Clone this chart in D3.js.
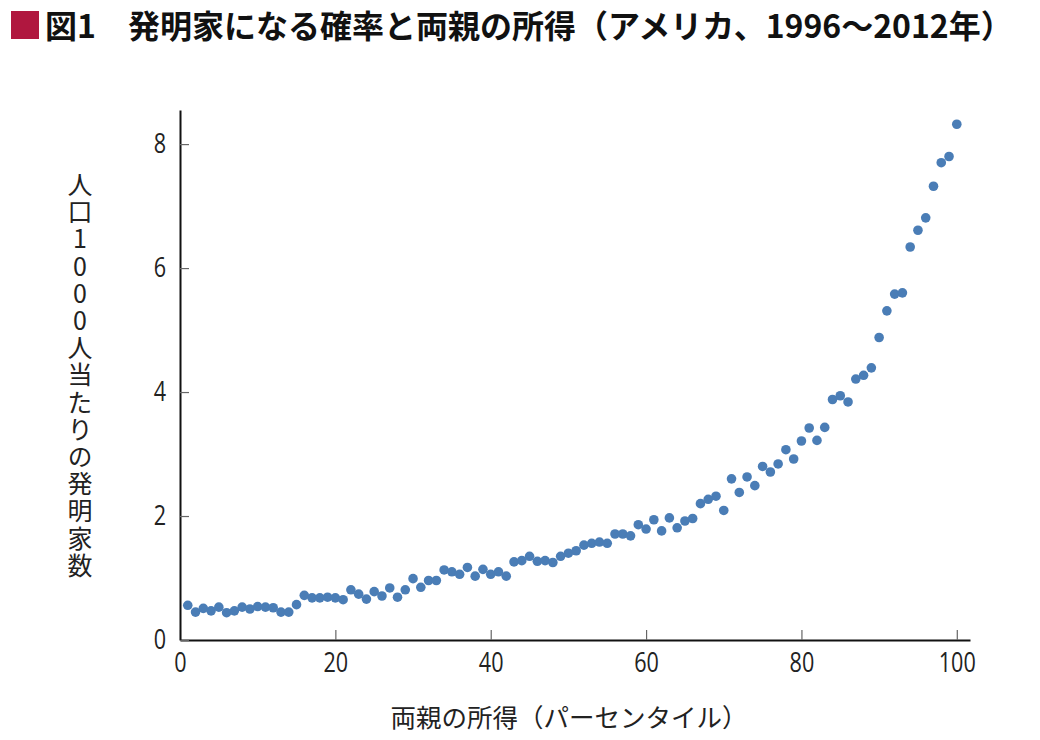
<!DOCTYPE html>
<html><head><meta charset="utf-8">
<script src="https://cdn.jsdelivr.net/npm/d3@7"></script>
<style>body{margin:0;background:#fff}svg{display:block}</style>
</head><body>
<script>
const titleText = "図1\u3000発明家になる確率と両親の所得（アメリカ、1996～2012年）";
const yLabelText = "人口1000人当たりの発明家数";
const xLabelText = "両親の所得（パーセンタイル）";
const xTicks = [0, 20, 40, 60, 80, 100];
const yTicks = [0, 2, 4, 6, 8];
const percentiles = d3.range(1, 101);
const inventors = [
  0.56,0.45,0.51,0.47,0.53,0.44,0.47,0.53,0.50,0.54,
  0.53,0.52,0.45,0.45,0.57,0.72,0.68,0.68,0.69,0.68,
  0.65,0.81,0.74,0.66,0.78,0.71,0.84,0.69,0.81,0.99,
  0.85,0.96,0.96,1.13,1.10,1.06,1.17,1.03,1.14,1.06,
  1.10,1.03,1.26,1.28,1.35,1.27,1.28,1.25,1.35,1.40,
  1.44,1.53,1.56,1.58,1.56,1.71,1.71,1.68,1.86,1.79,
  1.94,1.76,1.97,1.81,1.92,1.96,2.20,2.27,2.32,2.09,
  2.60,2.38,2.63,2.49,2.80,2.71,2.84,3.07,2.92,3.21,
  3.42,3.22,3.43,3.88,3.94,3.84,4.21,4.27,4.39,4.88,
  5.31,5.58,5.60,6.34,6.61,6.81,7.32,7.70,7.80,8.32
];

const W = 1040, H = 740;
const svg = d3.select("body").append("svg").attr("width", W).attr("height", H);

const x = d3.scaleLinear().domain([0, 101.7]).range([180, 970]);
const y = d3.scaleLinear().domain([0, 8.55]).range([640, 110]);

// title
svg.append("rect").attr("x", 11).attr("y", 11).attr("width", 28).attr("height", 28).attr("fill", "#b0173f");
const title = svg.append("text").attr("x", 45).attr("y", 38)
  .attr("font-family", "'Noto Sans CJK JP', sans-serif").attr("font-weight", "bold")
  .attr("font-size", 32).attr("fill", "#111").text(titleText);
{
  const len = title.node().getComputedTextLength();
  if (len > 975) title.attr("textLength", 975).attr("lengthAdjust", "spacingAndGlyphs");
}

function condense(sel, factor) {
  sel.each(function() {
    const l = this.getComputedTextLength();
    d3.select(this).attr("textLength", l * factor).attr("lengthAdjust", "spacingAndGlyphs");
  });
}

// axes
const gx = svg.append("g").attr("transform", "translate(0,640)")
  .call(d3.axisBottom(x).tickValues(xTicks).tickSize(0).tickPadding(13));
gx.select(".domain").attr("stroke", "#111").attr("stroke-width", 2);
gx.selectAll(".tick text").attr("font-family", "'Open Sans', sans-serif").attr("font-size", 27).attr("fill", "#222");
condense(gx.selectAll(".tick text"), 0.8);
gx.selectAll(".tick").append("line").attr("y1", 0).attr("y2", -10).attr("stroke", "#666").attr("stroke-width", 1.2);

const gy = svg.append("g").attr("transform", "translate(180,0)")
  .call(d3.axisLeft(y).tickValues(yTicks).tickSize(0).tickPadding(14));
gy.select(".domain").attr("stroke", "#111").attr("stroke-width", 2);
gy.selectAll(".tick text").attr("font-family", "'Open Sans', sans-serif").attr("font-size", 27).attr("fill", "#222");
condense(gy.selectAll(".tick text"), 0.8);
gy.selectAll(".tick").append("line").attr("x1", 0).attr("x2", 9).attr("stroke", "#666").attr("stroke-width", 1.2);
gy.selectAll(".tick").filter(d => d === 0).select("line").remove();

// points
svg.append("g").selectAll("circle").data(percentiles).join("circle")
  .attr("cx", (d) => x(d)).attr("cy", (d, i) => y(inventors[i]))
  .attr("r", 4.8).attr("fill", "#4a7db6");

// axis labels
svg.append("text").attr("x", 569).attr("y", 727).attr("text-anchor", "middle")
  .attr("font-family", "'Noto Sans CJK JP', sans-serif").attr("font-size", 25.5).attr("fill", "#222")
  .text(xLabelText);

svg.append("text").attr("x", 80).attr("y", 172)
  .attr("font-family", "'Noto Sans CJK JP', sans-serif").attr("font-size", 25).attr("fill", "#222")
  .attr("letter-spacing", 2.2)
  .style("writing-mode", "vertical-rl").style("text-orientation", "upright")
  .text(yLabelText);
</script>
</body></html>
